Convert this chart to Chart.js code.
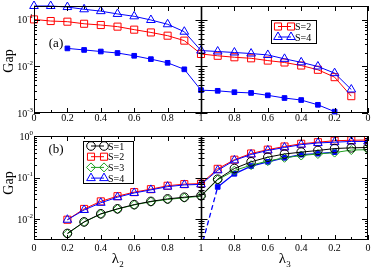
<!DOCTYPE html>
<html lang="en">
<head>
<meta charset="UTF-8">
<title>Gap vs lambda</title>
<script src="https://cdn.jsdelivr.net/npm/chart.js"></script>
<style>
  body { margin: 0; background: #fff; }
  #wrap { position: relative; width: 374px; height: 271px; }
  canvas { position: absolute; left: 0; }
  #top { top: 0; }
  #bottom { top: 130px; }
</style>
</head>
<body>
<div id="wrap">
  <canvas id="top" width="374" height="130"></canvas>
  <canvas id="bottom" width="374" height="141"></canvas>
</div>
<script>
// lambda_2 runs 0 -> 1 on the left half, lambda_3 runs 1 -> 0 on the right half
// (axis position for lambda_3 is 2 - lambda_3)
const lam2 = [0, 0.1, 0.2, 0.3, 0.4, 0.5, 0.6, 0.7, 0.8, 0.9, 1];
const lam3 = [0.9, 0.8, 0.7, 0.6, 0.5, 0.4, 0.3, 0.2, 0.1, 0];
const xTickLabels = ['0', '0.2', '0.4', '0.6', '0.8', '1', '0.8', '0.6', '0.4', '0.2', '0'];

// panel (a)
const aS2_l2 = [0.103, 0.095, 0.092, 0.083, 0.078, 0.072, 0.062, 0.054, 0.046, 0.036, 0.0186];
const aS2_l3 = [0.017, 0.0158, 0.015, 0.0134, 0.0122, 0.0105, 0.0085, 0.0059, 0.0023, null];
const aS4_l2 = [0.2, 0.2, 0.19, 0.17, 0.155, 0.135, 0.12, 0.1, 0.081, 0.056, 0.022];
const aS4_l3 = [0.021, 0.020, 0.019, 0.0177, 0.0146, 0.0123, 0.010, 0.0072, 0.0032, null];
const aFill_l2 = [null, null, 0.0245, 0.0227, 0.021, 0.0195, 0.017, 0.0144, 0.012, 0.0087, 0.0031];
const aFill_l3 = [0.003, 0.0028, 0.0027, 0.0024, 0.0021, 0.0019, 0.0015, 0.00107, null, null];

// panel (b)
const bS1_l2 = [null, null, 0.0046, 0.0087, 0.0136, 0.0179, 0.0226, 0.027, 0.031, 0.034, 0.037];
const bS1_l3 = [0.092, 0.166, 0.24, 0.31, 0.37, 0.41, 0.45, 0.50, 0.52, 0.53];
const bS2_l2 = [null, null, 0.0098, 0.0178, 0.027, 0.036, 0.045, 0.053, 0.064, 0.070, 0.072];
const bS2_l3 = [0.163, 0.27, 0.38, 0.47, 0.56, 0.65, 0.71, 0.77, 0.79, 0.80];
const bS3_l2 = [null, null, 0.0045, 0.0086, 0.0134, 0.0177, 0.0222, 0.0265, 0.030, 0.033, 0.036];
const bS3_l3 = [0.089, 0.148, 0.20, 0.25, 0.30, 0.34, 0.37, 0.40, 0.46, 0.47];
const bS4_l2 = [null, null, 0.0098, 0.0168, 0.025, 0.034, 0.043, 0.051, 0.061, 0.067, 0.069];
const bS4_l3 = [0.15, 0.26, 0.36, 0.45, 0.53, 0.62, 0.68, 0.71, 0.74, 0.74];
const bFill_l2 = [null, null, null, null, null, null, null, null, null, null, 0.002];
const bFill_l3 = [0.06, 0.124, 0.19, 0.24, 0.30, 0.357, 0.377, 0.41, null, null];

const RED = '#ff0000', BLUE = '#0000ff', GREEN = '#1f9f1f', BLACK = '#000000';
const SERIF = '"Liberation Serif", "Times New Roman", serif';

function series(v2, v3) {
  const pts = [];
  lam2.forEach((l, i) => { if (v2[i] != null) pts.push({ x: l, y: v2[i] }); });
  lam3.forEach((l, i) => { if (v3[i] != null) pts.push({ x: 2 - l, y: v3[i] }); });
  return pts;
}

function ds(data, color, style, radius, filled, extra) {
  return Object.assign({
    data: data,
    borderColor: color,
    backgroundColor: filled ? color : 'rgba(0,0,0,0)',
    borderWidth: 1,
    pointStyle: style,
    pointRadius: radius,
    pointBorderWidth: 1,
    pointBackgroundColor: filled ? color : 'rgba(0,0,0,0)',
    pointBorderColor: color
  }, extra || {});
}

function drawPow(ctx, exp, xRight, y) {
  const sup = exp === 0 ? '0' : '-' + (-exp);
  ctx.font = '7px ' + SERIF;
  const ws = ctx.measureText(sup).width;
  ctx.font = '10px ' + SERIF;
  const wb = ctx.measureText('10').width;
  ctx.textAlign = 'left';
  ctx.fillText('10', xRight - ws - wb, y + 3.5);
  ctx.font = '7px ' + SERIF;
  ctx.fillText(sup, xRight - ws, y - 1.5);
}

function drawLambda(ctx, sub, cx, y) {
  ctx.font = '15px ' + SERIF;
  const w = ctx.measureText('λ').width;
  ctx.textAlign = 'left';
  ctx.fillText('λ', cx - w / 2 - 2, y);
  ctx.font = '9px ' + SERIF;
  ctx.fillText(sub, cx + w / 2 - 2, y + 4);
}

function drawLegend(ctx, lg) {
  ctx.fillStyle = '#fff';
  ctx.fillRect(lg.box[0], lg.box[1], lg.box[2], lg.box[3]);
  ctx.strokeStyle = BLACK;
  ctx.lineWidth = 1;
  ctx.strokeRect(lg.box[0] + 0.5, lg.box[1] + 0.5, lg.box[2], lg.box[3]);
  lg.items.forEach((it, i) => {
    const y = lg.y0 + i * lg.dy;
    ctx.strokeStyle = it.color;
    ctx.lineWidth = 1;
    ctx.beginPath();
    ctx.moveTo(lg.x1, y);
    ctx.lineTo(lg.x2, y);
    ctx.stroke();
    ctx.fillStyle = 'rgba(0,0,0,0)';
    [lg.x1, lg.x2].forEach(px => {
      Chart.helpers.drawPoint(ctx, { pointStyle: it.style, radius: it.r, borderWidth: 1, rotation: 0 }, px, y);
    });
    ctx.fillStyle = BLACK;
    ctx.font = '10px ' + SERIF;
    ctx.textAlign = 'left';
    ctx.fillText(it.text, lg.xt, y + 3.5);
  });
}

const framePlugin = {
  id: 'frame',
  afterDraw(chart) {
    const o = chart.options.plugins.frame;
    const ctx = chart.ctx, a = chart.chartArea;
    const xs = chart.scales.x, ys = chart.scales.y;
    ctx.save();
    ctx.strokeStyle = BLACK;
    ctx.fillStyle = BLACK;
    ctx.lineWidth = 1;
    ctx.strokeRect(a.left + 0.5, a.top + 0.5, a.right - a.left - 1, a.bottom - a.top - 1);

    const xm = Math.round(xs.getPixelForValue(1)) + 0.5;
    ctx.lineWidth = 1.6;
    ctx.beginPath();
    ctx.moveTo(xm, a.top);
    ctx.lineTo(xm, a.bottom);
    ctx.stroke();
    ctx.lineWidth = 1;

    // x ticks (inward, top and bottom)
    ctx.beginPath();
    for (let i = 0; i <= 20; i++) {
      const px = Math.round(xs.getPixelForValue(i / 10)) + 0.5;
      const len = i % 2 === 0 ? 5 : 3;
      ctx.moveTo(px, a.bottom);
      ctx.lineTo(px, a.bottom - len);
      ctx.moveTo(px, a.top);
      ctx.lineTo(px, a.top + len);
    }
    // y ticks (log, left, right and both sides of the middle line)
    for (let d = -4; d <= 0; d++) {
      for (let m = 1; m <= 9; m++) {
        const v = m * Math.pow(10, d);
        if (v < ys.min * 0.999 || v > ys.max * 1.001) continue;
        const py = Math.round(ys.getPixelForValue(v)) + 0.5;
        const len = m === 1 ? 6 : 3;
        ctx.moveTo(a.left, py); ctx.lineTo(a.left + len, py);
        ctx.moveTo(a.right, py); ctx.lineTo(a.right - len, py);
        ctx.moveTo(xm - len, py); ctx.lineTo(xm + len, py);
      }
    }
    ctx.stroke();

    // x tick labels
    ctx.font = '10px ' + SERIF;
    ctx.textAlign = 'center';
    xTickLabels.forEach((t, k) => {
      ctx.fillText(t, xs.getPixelForValue(k * 0.2), o.xLabelY);
    });
    // y tick labels
    o.decades.forEach(e => drawPow(ctx, e, 33, ys.getPixelForValue(Math.pow(10, e))));

    // y title
    ctx.save();
    ctx.translate(9, o.gapY);
    ctx.rotate(-Math.PI / 2);
    ctx.font = '14px ' + SERIF;
    ctx.textAlign = 'center';
    ctx.textBaseline = 'middle';
    ctx.fillText('Gap', 0, 0);
    ctx.restore();

    // panel label
    ctx.font = '13px ' + SERIF;
    ctx.textAlign = 'center';
    ctx.fillText(o.tag, o.tagPos[0], o.tagPos[1]);

    if (o.lambdaY) {
      drawLambda(ctx, '2', xs.getPixelForValue(0.5), o.lambdaY);
      drawLambda(ctx, '3', xs.getPixelForValue(1.5), o.lambdaY);
    }
    drawLegend(ctx, o.legend);
    ctx.restore();
  }
};

function makeChart(id, datasets, yMin, yMax, xHeight, padTop, frame) {
  return new Chart(document.getElementById(id), {
    type: 'line',
    data: { datasets: datasets },
    options: {
      responsive: false,
      animation: false,
      devicePixelRatio: 1,
      layout: { padding: { left: 0, right: 4, top: padTop, bottom: 0 } },
      scales: {
        x: {
          type: 'linear', min: 0, max: 2,
          ticks: { display: false }, grid: { display: false }, border: { display: false },
          afterFit: s => { s.height = xHeight; }
        },
        y: {
          type: 'logarithmic', min: yMin, max: yMax,
          ticks: { display: false }, grid: { display: false }, border: { display: false },
          afterFit: s => { s.width = 34; }
        }
      },
      plugins: { legend: { display: false }, tooltip: { enabled: false }, frame: frame }
    },
    plugins: [framePlugin]
  });
}

makeChart('top', [
  ds(series(aS4_l2, aS4_l3), BLUE, 'triangle', 5, false, { clip: 6 }),
  ds(series(aS2_l2, aS2_l3), RED, 'rect', 5, false, { clip: 6 }),
  ds(series(aFill_l2, aFill_l3), BLUE, 'rect', 3.3, true, { clip: 6 })
], 0.001, 0.2, 17, 5, {
  xLabelY: 120.5,
  decades: [-1, -2, -3],
  gapY: 61,
  tag: '(a)',
  tagPos: [56, 47],
  legend: {
    box: [271, 20, 45, 23], x1: 278, x2: 291, xt: 295, y0: 26.5, dy: 10.5,
    items: [
      { text: 'S=2', color: RED, style: 'rect', r: 5 },
      { text: 'S=4', color: BLUE, style: 'triangle', r: 5 }
    ]
  }
});

makeChart('bottom', [
  ds(series(bS1_l2, bS1_l3), BLACK, 'circle', 4.3, false),
  ds(series(bS3_l2, bS3_l3), GREEN, 'rectRot', 4.5, false),
  ds(series(bS4_l2, bS4_l3), BLUE, 'triangle', 5, false),
  ds(series(bS2_l2, bS2_l3), RED, 'rect', 5, false),
  ds(series(bFill_l2, bFill_l3), BLUE, 'rect', 3.3, true, {
    borderWidth: 1.3,
    segment: { borderDash: c => c.p0DataIndex === 0 ? [5, 3] : undefined }
  })
], 0.0032, 1, 31, 4, {
  xLabelY: 121,
  decades: [0, -1, -2],
  gapY: 53,
  tag: '(b)',
  tagPos: [56, 23],
  lambdaY: 133,
  legend: {
    box: [83, 11, 50, 42], x1: 91, x2: 104, xt: 108, y0: 16, dy: 10.7,
    items: [
      { text: 'S=1', color: BLACK, style: 'circle', r: 4.3 },
      { text: 'S=2', color: RED, style: 'rect', r: 5 },
      { text: 'S=3', color: GREEN, style: 'rectRot', r: 4.5 },
      { text: 'S=4', color: BLUE, style: 'triangle', r: 5 }
    ]
  }
});
</script>
</body>
</html>
